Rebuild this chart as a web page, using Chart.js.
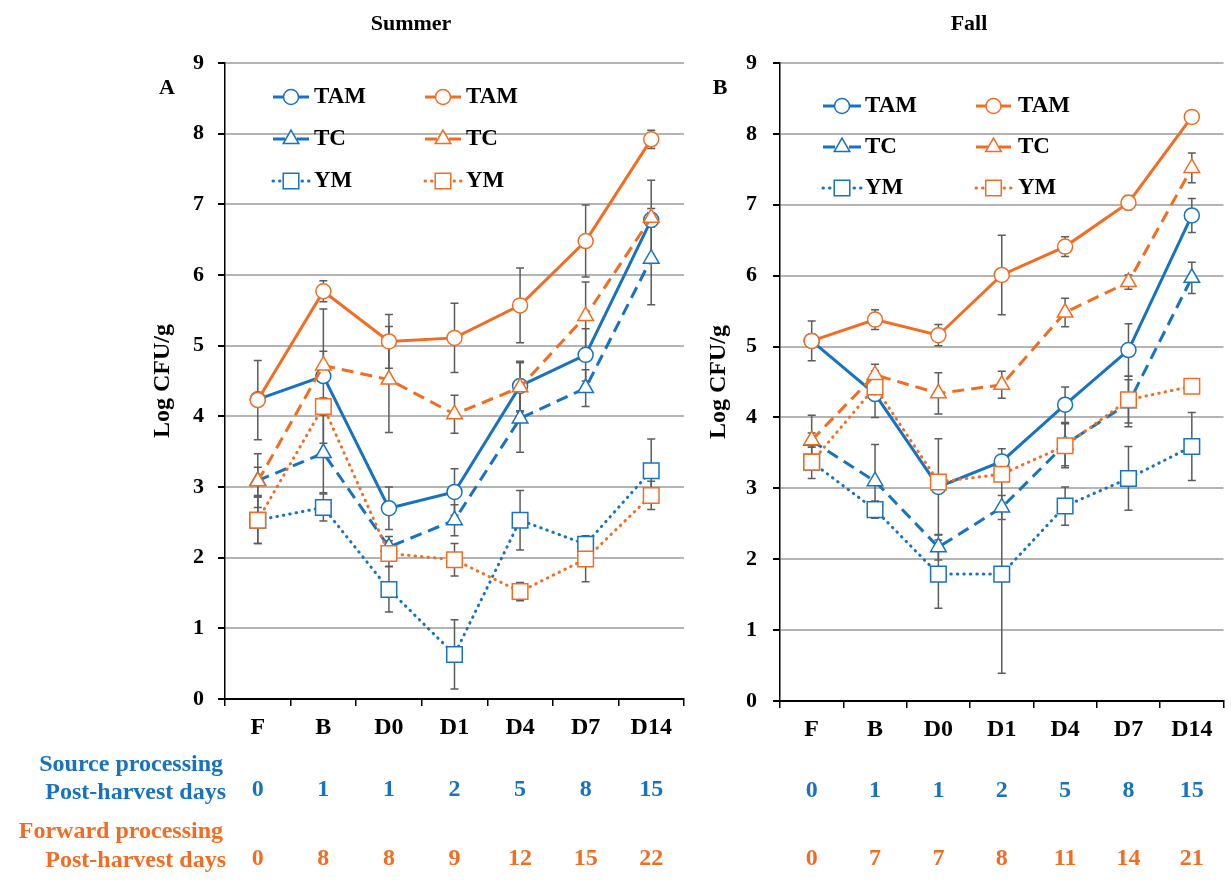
<!DOCTYPE html>
<html>
<head>
<meta charset="utf-8">
<script src="https://cdn.jsdelivr.net/npm/chart.js@4.4.1/dist/chart.umd.min.js"></script>
<style>
  html, body { margin: 0; padding: 0; background: #fff; }
  #page { position: relative; width: 1231px; height: 886px; overflow: hidden;
          font-family: 'Liberation Serif', 'Times New Roman', serif; font-weight: bold; }
  canvas { position: absolute; top: 0; }
  #summerCanvas { left: 0; }
  #fallCanvas { left: 700px; }
  .txt { position: absolute; white-space: nowrap; line-height: 1; }
  .mid { transform: translate(-50%, -50%); }
  .rgt { transform: translateY(-50%); text-align: right; }
</style>
</head>
<body>
<div id="page">
  <canvas id="summerCanvas" width="700" height="886"></canvas>
  <canvas id="fallCanvas" width="536" height="886"></canvas>

  <div class="txt mid" style="left:411px; top:23px; font-size:22px;">Summer</div>
  <div class="txt mid" style="left:969px; top:23px; font-size:22px;">Fall</div>
  <div class="txt mid" style="left:167px; top:87px; font-size:22px;">A</div>
  <div class="txt mid" style="left:720px; top:87px; font-size:22px;">B</div>

  <div class="txt rgt" style="right:1008px; top:763px; font-size:24px; color:#1772BF;">Source processing</div>
  <div class="txt rgt" style="right:1005px; top:791px; font-size:24px; color:#1772BF;">Post-harvest days</div>
  <div class="txt rgt" style="right:1008px; top:830px; font-size:24px; color:#F26D21;">Forward processing</div>
  <div class="txt rgt" style="right:1005px; top:859px; font-size:24px; color:#F26D21;">Post-harvest days</div>
</div>

<script>
// Sampling points along the supply chain
const categories = ['F', 'B', 'D0', 'D1', 'D4', 'D7', 'D14'];

// Post-harvest days for each sampling point
const summerSourceDays  = ['0', '1', '1', '2', '5', '8', '15'];
const summerForwardDays = ['0', '8', '8', '9', '12', '15', '22'];
const fallSourceDays    = ['0', '1', '1', '2', '5', '8', '15'];
const fallForwardDays   = ['0', '7', '7', '8', '11', '14', '21'];

// Summer, source processing (mean log CFU/g and SD)
const summerSourceTAM    = [4.24, 4.57, 2.70, 2.93, 4.43, 4.87, 6.78];
const summerSourceTAMErr = [0.00, 0.95, 0.30, 0.33, 0.35, 0.37, 0.56];
const summerSourceTC     = [3.09, 3.48, 2.15, 2.53, 3.97, 4.40, 6.23];
const summerSourceTCErr  = [0.38, 0.56, 0.15, 0.22, 0.48, 0.26, 0.65];
const summerSourceYM     = [2.53, 2.71, 1.55, 0.63, 2.53, 2.19, 3.23];
const summerSourceYMErr  = [0.33, 0.19, 0.32, 0.49, 0.42, 0.12, 0.45];

// Summer, forward processing
const summerForwardTAM    = [4.23, 5.77, 5.06, 5.11, 5.57, 6.48, 7.92];
const summerForwardTAMErr = [0.56, 0.15, 0.38, 0.49, 0.53, 0.51, 0.13];
const summerForwardTC     = [3.08, 4.72, 4.52, 4.03, 4.41, 5.42, 6.81];
const summerForwardTCErr  = [0.20, 0.20, 0.75, 0.27, 0.35, 0.48, 0.13];
const summerForwardYM     = [2.53, 4.14, 2.06, 1.97, 1.52, 1.98, 2.88];
const summerForwardYMErr  = [0.33, 0.12, 0.18, 0.23, 0.13, 0.32, 0.20];

// Fall, source processing
const fallSourceTAM    = [5.08, 4.33, 3.02, 3.38, 4.18, 4.95, 6.85];
const fallSourceTAMErr = [0.00, 0.33, 0.68, 0.18, 0.25, 0.37, 0.24];
const fallSourceTC     = [3.67, 3.10, 2.17, 2.73, 3.62, 4.20, 5.97];
const fallSourceTCErr  = [0.36, 0.52, 0.18, 0.17, 0.30, 0.33, 0.22];
const fallSourceYM     = [3.37, 2.70, 1.79, 1.79, 2.75, 3.14, 3.59];
const fallSourceYMErr  = [0.23, 0.12, 0.48, 1.40, 0.27, 0.45, 0.48];

// Fall, forward processing
const fallForwardTAM    = [5.08, 5.38, 5.16, 6.01, 6.41, 7.03, 8.24];
const fallForwardTAMErr = [0.28, 0.14, 0.15, 0.56, 0.14, 0.10, 0.06];
const fallForwardTC     = [3.68, 4.60, 4.34, 4.46, 5.48, 5.91, 7.52];
const fallForwardTCErr  = [0.10, 0.15, 0.29, 0.19, 0.20, 0.10, 0.21];
const fallForwardYM     = [3.37, 4.43, 3.09, 3.20, 3.60, 4.25, 4.44];
const fallForwardYMErr  = [0.10, 0.10, 0.10, 0.10, 0.31, 0.33, 0.00];

const BLUE = '#1772BF';
const ORANGE = '#F26D21';
const FONT = "'Liberation Serif', 'Times New Roman', serif";

Chart.defaults.font.family = FONT;
Chart.defaults.font.weight = 'bold';
Chart.defaults.color = '#000';

// Line / marker look of each organism group
const looks = {
  TAM: { pointStyle: 'circle',   pointRadius: 7.5, borderDash: [],       borderCapStyle: 'butt',  row: 0 },
  TC:  { pointStyle: 'triangle', pointRadius: 9,   borderDash: [12, 7],  borderCapStyle: 'butt',  row: 1 },
  YM:  { pointStyle: 'rect',     pointRadius: 11,  borderDash: [0.5, 6], borderCapStyle: 'round', row: 2 }
};

function series(label, data, errors, color, col) {
  const lk = looks[label];
  return {
    label, data, errors,
    borderColor: color,
    backgroundColor: '#fff',
    pointBackgroundColor: '#fff',
    pointBorderColor: color,
    pointBorderWidth: 1.5,
    pointRadius: lk.pointRadius,
    pointHoverRadius: lk.pointRadius,
    pointStyle: lk.pointStyle,
    borderWidth: 3,
    borderDash: lk.borderDash,
    borderCapStyle: lk.borderCapStyle,
    tension: 0,
    fill: false,
    order: col === 0 ? 1 : 0,
    legendCol: col,
    legendRow: lk.row
  };
}

// Vertical SD whiskers with caps, drawn under the lines and markers
const errorBars = {
  id: 'errorBars',
  beforeDatasetsDraw(chart) {
    const { ctx } = chart;
    const y = chart.scales.y;
    ctx.save();
    ctx.strokeStyle = '#5c5c5c';
    ctx.lineWidth = 1.5;
    chart.data.datasets.forEach((ds, i) => {
      const meta = chart.getDatasetMeta(i);
      meta.data.forEach((pt, j) => {
        const e = ds.errors[j];
        if (!e) return;
        const v = ds.data[j];
        const top = y.getPixelForValue(v + e);
        const bot = y.getPixelForValue(v - e);
        const x = pt.x;
        ctx.beginPath();
        ctx.moveTo(x, top); ctx.lineTo(x, bot);
        ctx.moveTo(x - 4, top); ctx.lineTo(x + 4, top);
        ctx.moveTo(x - 4, bot); ctx.lineTo(x + 4, bot);
        ctx.stroke();
      });
    });
    ctx.restore();
  }
};

function drawMarker(ctx, style, r, x, y, color, bw) {
  ctx.beginPath();
  if (style === 'circle') {
    ctx.arc(x, y, r, 0, Math.PI * 2);
  } else if (style === 'triangle') {
    const s = Math.sin(Math.PI * 2 / 3) * r;
    ctx.moveTo(x, y - r);
    ctx.lineTo(x + s, y + r / 2);
    ctx.lineTo(x - s, y + r / 2);
    ctx.closePath();
  } else {
    const h = r * Math.SQRT1_2;
    ctx.rect(x - h, y - h, 2 * h, 2 * h);
  }
  ctx.fillStyle = '#fff';
  ctx.fill();
  ctx.lineWidth = bw;
  ctx.strokeStyle = color;
  ctx.stroke();
}

// Two-column legend: source processing (left) and forward processing (right)
function makeLegend(layout) {
  return {
    id: 'seriesLegend',
    afterDatasetsDraw(chart) {
      const ctx = chart.ctx;
      chart.data.datasets.forEach(ds => {
        const col = layout.cols[ds.legendCol];
        const y = layout.rows[ds.legendRow];
        const cx = (col.a + col.b) / 2;
        ctx.save();
        ctx.strokeStyle = ds.borderColor;
        ctx.lineWidth = ds.borderWidth;
        ctx.lineCap = ds.borderCapStyle;
        ctx.setLineDash(ds.borderDash);
        ctx.beginPath(); ctx.moveTo(col.a, y); ctx.lineTo(cx, y); ctx.stroke();
        ctx.beginPath(); ctx.moveTo(col.b, y); ctx.lineTo(cx, y); ctx.stroke();
        ctx.setLineDash([]);
        drawMarker(ctx, ds.pointStyle, ds.pointRadius, cx, y, ds.borderColor, ds.pointBorderWidth);
        ctx.fillStyle = '#000';
        ctx.font = 'bold 23px ' + FONT;
        ctx.textBaseline = 'middle';
        ctx.textAlign = 'left';
        ctx.fillText(ds.label, col.t, y);
        ctx.restore();
      });
    }
  };
}

function dayAxis(labels, color, weight, padding, height) {
  return {
    type: 'category',
    position: 'bottom',
    labels,
    offset: true,
    weight,
    grid: { display: false, drawTicks: false },
    border: { display: false },
    ticks: { color, font: { size: 24, weight: 'bold' }, padding, maxRotation: 0, autoSkip: false },
    afterFit(s) { s.height = height; }
  };
}

function buildChart(canvasId, datasets, cfg) {
  return new Chart(document.getElementById(canvasId), {
    type: 'line',
    data: { labels: categories, datasets },
    options: {
      responsive: false,
      animation: false,
      devicePixelRatio: 1,
      layout: { padding: cfg.padding },
      plugins: { legend: { display: false }, tooltip: { enabled: false } },
      scales: {
        x: {
          type: 'category',
          position: 'bottom',
          offset: true,
          weight: 0,
          grid: { display: true, drawOnChartArea: false, offset: true, tickLength: 7,
                  tickColor: '#000', color: '#000', lineWidth: 1.5 },
          border: { color: '#000', width: 2 },
          ticks: { font: { size: 24, weight: 'bold' }, color: '#000', padding: 7, maxRotation: 0, autoSkip: false },
          afterFit(s) { s.height = 50; }
        },
        x2: dayAxis(cfg.sourceDays, BLUE, 1, cfg.pad2, 70),
        x3: dayAxis(cfg.forwardDays, ORANGE, 2, cfg.pad3, cfg.h3),
        y: {
          min: 0, max: 9,
          ticks: { stepSize: 1, font: { size: 22, weight: 'bold' }, color: '#000', padding: cfg.yPad },
          grid: { color: '#B4B4B4', lineWidth: 2, tickColor: '#000', tickLength: 7 },
          border: { color: '#000', width: 1.5 },
          title: { display: true, text: 'Log CFU/g', color: '#000',
                   font: { size: 24, weight: 'bold' }, padding: { top: cfg.titlePad, bottom: 0 } },
          afterFit(s) { s.width = cfg.yWidth; }
        }
      }
    },
    plugins: [errorBars, makeLegend(cfg.legend)]
  });
}

buildChart('summerCanvas', [
  series('TAM', summerSourceTAM, summerSourceTAMErr, BLUE, 0),
  series('TC',  summerSourceTC,  summerSourceTCErr,  BLUE, 0),
  series('YM',  summerSourceYM,  summerSourceYMErr,  BLUE, 0),
  series('TAM', summerForwardTAM, summerForwardTAMErr, ORANGE, 1),
  series('TC',  summerForwardTC,  summerForwardTCErr,  ORANGE, 1),
  series('YM',  summerForwardYM,  summerForwardYMErr,  ORANGE, 1)
], {
  padding: { left: 140, right: 16, top: 63, bottom: 0 },
  yWidth: 85, yPad: 14, titlePad: 8,
  sourceDays: summerSourceDays, forwardDays: summerForwardDays,
  pad2: 26.5, pad3: 25.5, h3: 67,
  legend: { cols: [{ a: 273, b: 309, t: 314 }, { a: 425, b: 461, t: 466 }], rows: [97, 139, 181] }
});

buildChart('fallCanvas', [
  series('TAM', fallSourceTAM, fallSourceTAMErr, BLUE, 0),
  series('TC',  fallSourceTC,  fallSourceTCErr,  BLUE, 0),
  series('YM',  fallSourceYM,  fallSourceYMErr,  BLUE, 0),
  series('TAM', fallForwardTAM, fallForwardTAMErr, ORANGE, 1),
  series('TC',  fallForwardTC,  fallForwardTCErr,  ORANGE, 1),
  series('YM',  fallForwardYM,  fallForwardYMErr,  ORANGE, 1)
], {
  padding: { left: 0, right: 1, top: 63, bottom: 0 },
  yWidth: 80, yPad: 16, titlePad: 4.6,
  sourceDays: fallSourceDays, forwardDays: fallForwardDays,
  pad2: 25.5, pad3: 23.6, h3: 65,
  legend: { cols: [{ a: 123, b: 161, t: 165 }, { a: 276, b: 311, t: 318 }], rows: [106, 147, 188] }
});
</script>
</body>
</html>
